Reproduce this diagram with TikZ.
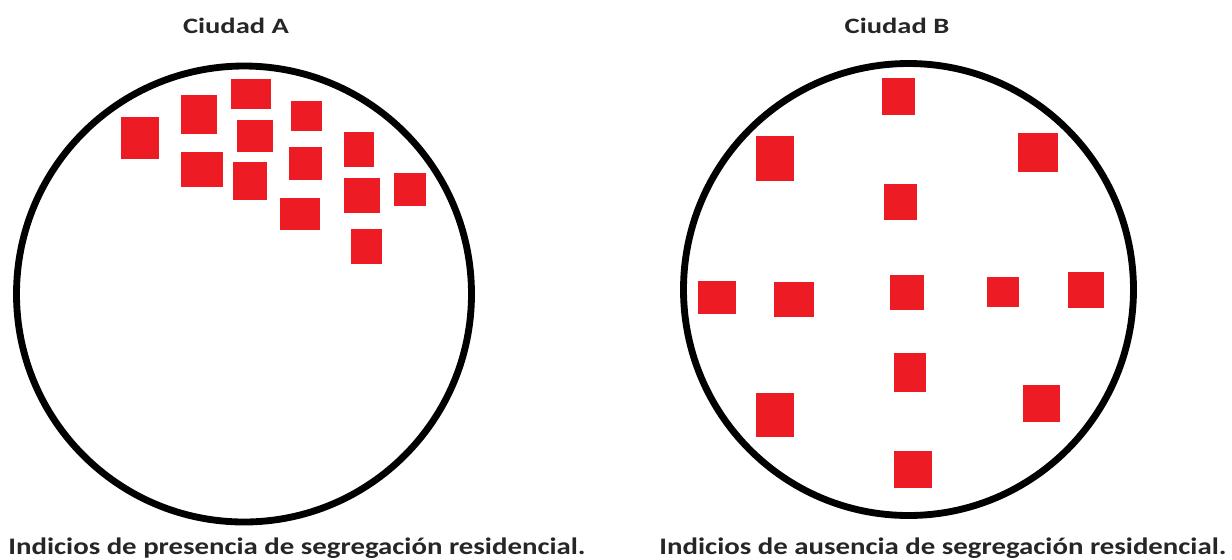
\documentclass[tikz,border=0pt]{standalone}
\usepackage{fontspec}
\setmainfont{Carlito}
\usepackage{graphicx}
\usepackage{tikz}
\definecolor{housered}{RGB}{237,28,36}
% text of the reference is set wide
\newcommand{\widetext}[2]{\scalebox{#1}[1]{#2}}

\begin{document}
\begin{tikzpicture}[
    x=0.02cm, y=-0.02cm,
    city/.style={draw=black, line width=3.9pt},
    house/.style={fill=housered},
    title/.style={font=\fontsize{12.5}{14}\selectfont\bfseries, text=black!85, inner sep=0pt, anchor=base},
    caption/.style={font=\fontsize{13.5}{16}\selectfont\bfseries, text=black!85, inner sep=0pt, anchor=base}
]
    \useasboundingbox (0,0) rectangle (1232,559);

    % Titles
    \node[title] (titleA) at (236,33.5) {\widetext{1.3}{Ciudad A}};
    \node[title] (titleB) at (897,33.5) {\widetext{1.3}{Ciudad B}};

    % Cities
    \draw[city] (244,294) ellipse [x radius=227.5, y radius=228];
    \draw[city] (908.5,289.5) ellipse [x radius=225, y radius=226];

    % Ciudad A: houses grouped together
    \foreach \xa/\ya/\xb/\yb in {121/117/159/159, 181/95/217/134, 231/79/271/109,
        291/101/322/131, 237/120/273/152, 181/152/223/187, 233/162/267/200,
        289/147/322/180, 344/132/374/167, 344/178/380/213, 394/173/426/206,
        280/198/320/230, 351/229/382/264}
        \fill[house] (\xa,\ya) rectangle (\xb,\yb);

    % Ciudad B: houses spread out
    \foreach \xa/\ya/\xb/\yb in {882/78/915/115, 756/136/794/181, 1018/133/1058/172,
        884/184/917/220, 698/281/736/314, 774/282/814/317, 890/275/924/310,
        987/277/1019/307, 1068/272/1104/308, 894/353/926/392, 756/393/794/437,
        1023/385/1060/422, 894/451/932/488}
        \fill[house] (\xa,\ya) rectangle (\xb,\yb);

    % Captions
    \node[caption] (capA) at (297,554) {\widetext{1.215}{Indicios de presencia de segregación residencial.}};
    \node[caption] (capB) at (943,554) {\widetext{1.215}{Indicios de ausencia de segregación residencial.}};
\end{tikzpicture}
\end{document}
